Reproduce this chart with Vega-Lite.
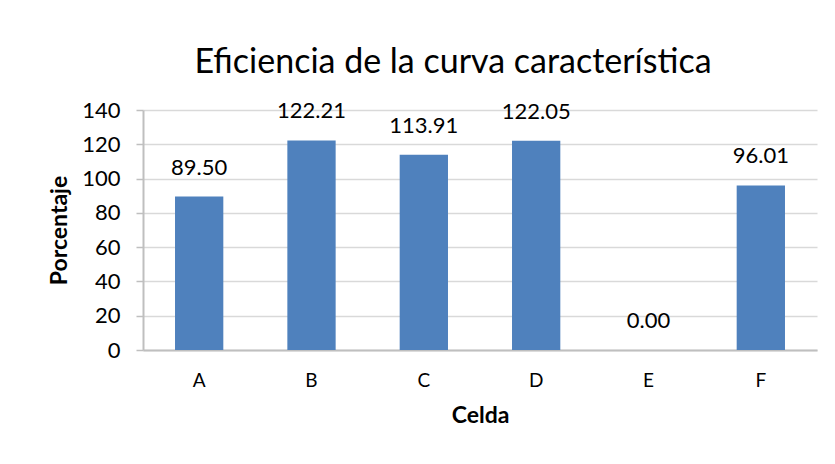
{
  "$schema": "https://vega.github.io/schema/vega-lite/v6.json",
  "width": 674,
  "height": 240,
  "autosize": {"type": "none"},
  "padding": {"left": 143, "top": 110, "right": 18, "bottom": 114},
  "background": "white",
  "title": {
    "text": "Eficiencia de la curva característica",
    "font": "Lato",
    "fontSize": 34,
    "fontWeight": "normal",
    "color": "#000000",
    "anchor": "middle",
    "dx": -27,
    "offset": 19
  },
  "data": {
    "values": [
      {"Celda": "A", "Porcentaje": 89.50},
      {"Celda": "B", "Porcentaje": 122.21},
      {"Celda": "C", "Porcentaje": 113.91},
      {"Celda": "D", "Porcentaje": 122.05},
      {"Celda": "E", "Porcentaje": 0.00},
      {"Celda": "F", "Porcentaje": 96.01}
    ]
  },
  "encoding": {
    "x": {
      "field": "Celda",
      "type": "nominal",
      "sort": null,
      "scale": {"paddingInner": 0.57, "paddingOuter": 0.285},
      "axis": {
        "title": "Celda",
        "labelAngle": 0,
        "ticks": false,
        "domainColor": "#BFBFBF",
        "domainWidth": 2,
        "labelFont": "Lato",
        "labelFontSize": 19,
        "labelColor": "#000000",
        "labelPadding": 21,
        "titleFont": "Lato",
        "titleFontSize": 23,
        "titleFontWeight": "bold",
        "titleColor": "#000000",
        "titlePadding": 14
      }
    },
    "y": {
      "field": "Porcentaje",
      "type": "quantitative",
      "scale": {"domain": [0, 140], "nice": false},
      "axis": {
        "title": "Porcentaje",
        "values": [0, 20, 40, 60, 80, 100, 120, 140],
        "grid": true,
        "gridColor": "#D9D9D9",
        "gridWidth": 1.5,
        "domainColor": "#BFBFBF",
        "domainWidth": 2,
        "tickColor": "#BFBFBF",
        "tickSize": 7,
        "tickWidth": 1.5,
        "labelFont": "Lato",
        "labelFontSize": 22,
        "labelColor": "#000000",
        "labelPadding": 16,
        "titleFont": "Lato",
        "titleFontSize": 23,
        "titleFontWeight": "bold",
        "titleColor": "#000000",
        "titlePadding": 10
      }
    }
  },
  "layer": [
    {
      "mark": {"type": "bar", "color": "#4F81BD"}
    },
    {
      "mark": {
        "type": "text",
        "baseline": "bottom",
        "dy": -17,
        "font": "Lato",
        "fontSize": 22,
        "color": "#000000"
      },
      "encoding": {
        "text": {"field": "Porcentaje", "type": "quantitative", "format": ".2f"}
      }
    }
  ],
  "config": {
    "view": {"stroke": null}
  }
}
